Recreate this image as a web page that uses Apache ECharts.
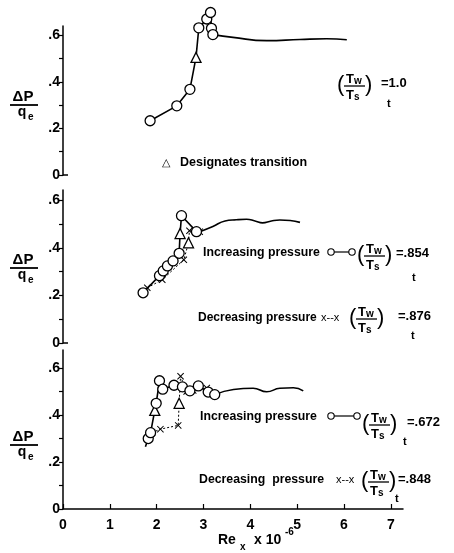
<!DOCTYPE html>
<html>
<head>
<meta charset="utf-8">
<script src="https://cdn.jsdelivr.net/npm/echarts@6/dist/echarts.min.js"></script>
<style>
  html, body { margin: 0; padding: 0; background: #fff; }
  #chart { width: 454px; height: 553px; }
</style>
</head>
<body>
<div id="chart"></div>
<script>
// tick values
const xTicks = [0, 1, 2, 3, 4, 5, 6, 7];
const yTicks = [0, 0.1, 0.2, 0.3, 0.4, 0.5, 0.6];
const yLabels = [0, 0.2, 0.4, 0.6];

// panel 1, Tw/Ts = 1.0  (o = circle, t = transition)
const p1Re   = [1.86, 2.43, 2.71, 2.84, 2.90, 3.07, 3.15, 3.17, 3.20];
const p1Dp   = [0.233, 0.297, 0.368, 0.505, 0.632, 0.670, 0.698, 0.630, 0.603];
const p1Mark = ['o', 'o', 'o', 't', 'o', 'o', 'o', 'o', 'o'];
const c1Re   = [3.20, 3.63, 4.35, 5.06, 5.63, 6.06];
const c1Dp   = [0.603, 0.591, 0.577, 0.582, 0.585, 0.581];

// panel 2, increasing .854 / decreasing .876
const i2Re   = [1.71, 2.06, 2.14, 2.23, 2.35, 2.48, 2.50, 2.53, 2.85];
const i2Dp   = [0.211, 0.283, 0.303, 0.324, 0.345, 0.377, 0.460, 0.535, 0.468];
const i2Mark = ['o', 'o', 'o', 'o', 'o', 'o', 't', 'o', 'o'];
const d2Re   = [1.80, 2.12, 2.58, 2.68, 2.70, 2.92];
const d2Dp   = [0.232, 0.266, 0.350, 0.421, 0.472, 0.468];
const d2Mark = ['x', 'x', 'x', 't', 'x', 'x'];
const c2Re   = [2.92, 3.20, 3.46, 3.70, 3.92, 4.10, 4.26, 4.45, 4.63, 4.85, 5.06];
const c2Dp   = [0.468, 0.490, 0.513, 0.518, 0.520, 0.513, 0.505, 0.513, 0.517, 0.515, 0.507];

// panel 3, increasing .672 / decreasing .848
const i3Re   = [1.76, 1.82, 1.87, 1.96, 1.99, 2.06, 2.13, 2.37, 2.55, 2.71, 2.89, 3.10, 3.24];
const i3Dp   = [0.265, 0.300, 0.325, 0.420, 0.450, 0.546, 0.510, 0.527, 0.520, 0.503, 0.524, 0.498, 0.487];
const i3Mark = ['n', 'o', 'o', 't', 'o', 'o', 'o', 'o', 'o', 'o', 'o', 'o', 'o'];
const d3Re   = [1.90, 2.08, 2.46, 2.48, 2.51, 2.64, 2.78, 3.07];
const d3Dp   = [0.325, 0.340, 0.356, 0.450, 0.565, 0.500, 0.505, 0.515];
const d3Mark = ['x', 'x', 'x', 't', 'x', 'x', 'x', 'x'];
const c3Re   = [3.24, 3.64, 4.06, 4.35, 4.63, 4.92, 5.13];
const c3Dp   = [0.487, 0.509, 0.514, 0.499, 0.514, 0.516, 0.503];

const FONT = 'Liberation Sans';
const XMARK = 'path://M0,1L1,0L5,4L9,0L10,1L6,5L10,9L9,10L5,6L1,10L0,9L4,5Z';

function pts(re, dp, mark) {
  return re.map(function (x, i) {
    const m = mark ? mark[i] : 'n';
    const item = { value: [x, dp[i]] };
    if (m === 'o') {
      item.symbol = 'circle'; item.symbolSize = 10;
    } else if (m === 't') {
      item.symbol = 'triangle'; item.symbolSize = 10;
    } else if (m === 'x') {
      item.symbol = XMARK; item.symbolSize = 7;
      item.itemStyle = { color: '#000', borderWidth: 0 };
    } else {
      item.symbol = 'none';
    }
    return item;
  });
}

function markSeries(idx, data, dashed) {
  return {
    type: 'line', xAxisIndex: idx, yAxisIndex: idx, data: data, clip: false,
    lineStyle: { color: '#000', width: dashed ? 1 : 1.6, type: dashed ? [2, 2] : 'solid' },
    itemStyle: { color: '#fff', borderColor: '#000', borderWidth: 1.3 },
    z: dashed ? 3 : 4
  };
}

function curveSeries(idx, re, dp) {
  return {
    type: 'line', xAxisIndex: idx, yAxisIndex: idx, smooth: true, symbol: 'none', clip: false,
    data: re.map(function (x, i) { return [x, dp[i]]; }),
    lineStyle: { color: '#000', width: 1.6 }
  };
}

function yAx(idx, max) {
  return {
    type: 'value', gridIndex: idx, min: 0, max: max,
    axisLine: { show: true, lineStyle: { color: '#000', width: 1.5 } },
    axisTick: { show: true, length: 4, customValues: yTicks, lineStyle: { color: '#000', width: 1.2 } },
    axisLabel: {
      customValues: yLabels, margin: 3, color: '#000', fontWeight: 'bold', fontSize: 14, fontFamily: FONT,
      formatter: function (v) { return v === 0 ? '0' : '.' + Math.round(v * 10); }
    },
    splitLine: { show: false }
  };
}

function xAx(idx, visible) {
  return {
    type: 'value', gridIndex: idx, min: 0, max: 7.26, show: visible,
    axisLine: { show: true, lineStyle: { color: '#000', width: 1.5 } },
    axisTick: { show: true, inside: true, length: 5, customValues: xTicks, lineStyle: { color: '#000', width: 1.2 } },
    axisLabel: { customValues: xTicks, margin: 9, color: '#000', fontWeight: 'bold', fontSize: 14, fontFamily: FONT },
    splitLine: { show: false }
  };
}

// text helpers (graphic)
function txt(x, y, s, size, weight, align) {
  return {
    type: 'text', x: x, y: y,
    style: { text: s, fill: '#000', font: (weight || 'bold') + ' ' + size + 'px "' + FONT + '"',
             textAlign: align || 'left', textVerticalAlign: 'middle' }
  };
}
function hline(x1, x2, y, w) {
  return { type: 'line', shape: { x1: x1, y1: y, x2: x2, y2: y }, style: { stroke: '#000', lineWidth: w || 1.5 } };
}

function dpq(x, top) {
  return [
    txt(x + 13, top + 6, 'ΔP', 15, 'bold', 'center'),
    hline(x, x + 28, top + 14, 1.8),
    txt(x + 12, top + 21, 'q', 14, 'bold', 'center'),
    txt(x + 18, top + 26, 'e', 10, 'bold', 'left')
  ];
}

function ratio(x, bar, val, valX, tX, tY) {
  return [
    txt(x, bar - 1, '(', 22, 'normal', 'left'),
    txt(x + 9, bar - 7, 'T', 13, 'bold', 'left'),
    txt(x + 17, bar - 5, 'w', 10, 'bold', 'left'),
    hline(x + 7, x + 28, bar, 1.3),
    txt(x + 9, bar + 9, 'T', 13, 'bold', 'left'),
    txt(x + 17, bar + 11, 's', 10, 'bold', 'left'),
    txt(x + 28, bar - 1, ')', 22, 'normal', 'left'),
    txt(tX, tY, 't', 11, 'bold', 'left'),
    txt(valX, bar - 3, val, 13, 'bold', 'left')
  ];
}

function circLegend(x1, x2, y) {
  return [
    hline(x1 + 3, x2 - 3, y, 1.2),
    { type: 'circle', shape: { cx: x1, cy: y, r: 3.2 }, style: { fill: '#fff', stroke: '#000', lineWidth: 1.1 } },
    { type: 'circle', shape: { cx: x2, cy: y, r: 3.2 }, style: { fill: '#fff', stroke: '#000', lineWidth: 1.1 } }
  ];
}

let g = [];
g = g.concat(dpq(10, 91), dpq(10, 254), dpq(10, 431));
g = g.concat(ratio(337, 86, '=1.0', 381, 387, 104));
g.push(txt(162, 163, '△', 11, 'normal', 'left'));
g.push(txt(180, 163, 'Designates transition', 12.5, 'bold', 'left'));

g.push(txt(203, 253, 'Increasing pressure', 12.3, 'bold', 'left'));
g = g.concat(circLegend(331, 352, 252));
g = g.concat(ratio(357, 256, '=.854', 396, 412, 278));
g.push(txt(198, 318, 'Decreasing pressure', 12, 'bold', 'left'));
g.push(txt(321, 318, 'x--x', 11, 'normal', 'left'));
g = g.concat(ratio(349, 319, '=.876', 398, 411, 336));

g.push(txt(200, 417, 'Increasing pressure', 12.3, 'bold', 'left'));
g = g.concat(circLegend(331, 357, 416));
g = g.concat(ratio(362, 425, '=.672', 407, 403, 442));
g.push(txt(199, 480, 'Decreasing  pressure', 12.3, 'bold', 'left'));
g.push(txt(336, 480, 'x--x', 11, 'normal', 'left'));
g = g.concat(ratio(361, 482, '=.848', 398, 395, 499));

// x axis title: Re_x x 10^-6
g.push(txt(218, 540, 'Re', 14, 'bold', 'left'));
g.push(txt(240, 547, 'x', 10, 'bold', 'left'));
g.push(txt(254, 540, 'x 10', 14, 'bold', 'left'));
g.push(txt(285, 532, '-6', 10, 'bold', 'left'));

// little feet at the bottom of the upper two axes
g.push(hline(63, 68, 175, 1.5));
g.push(hline(63, 68, 343, 1.5));

const chart = echarts.init(document.getElementById('chart'));
chart.setOption({
  backgroundColor: '#fff',
  animation: false,
  textStyle: { fontFamily: FONT },
  grid: [
    { left: 63, right: 51, top: 26, height: 149 },
    { left: 63, right: 51, top: 190, height: 153 },
    { left: 63, right: 51, top: 350, height: 159 }
  ],
  xAxis: [xAx(0, false), xAx(1, false), xAx(2, true)],
  yAxis: [yAx(0, 0.64), yAx(1, 0.643), yAx(2, 0.677)],
  series: [
    curveSeries(0, c1Re, c1Dp),
    markSeries(0, pts(p1Re, p1Dp, p1Mark), false),
    curveSeries(1, c2Re, c2Dp),
    markSeries(1, pts(d2Re, d2Dp, d2Mark), true),
    markSeries(1, pts(i2Re, i2Dp, i2Mark), false),
    curveSeries(2, c3Re, c3Dp),
    markSeries(2, pts(d3Re, d3Dp, d3Mark), true),
    markSeries(2, pts(i3Re, i3Dp, i3Mark), false)
  ],
  graphic: g
});
</script>
</body>
</html>
